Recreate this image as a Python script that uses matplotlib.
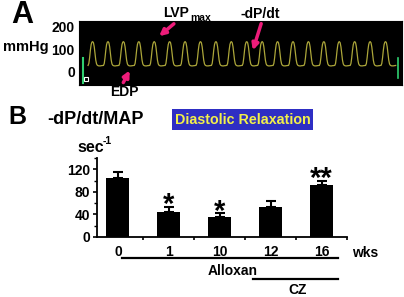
#!/usr/bin/env python3
"""LV pressure trace (A) and diastolic relaxation bar chart (B)."""

import matplotlib

matplotlib.use("Agg")

import matplotlib.pyplot as plt
import numpy as np
from matplotlib.patches import FancyArrowPatch, Rectangle
from matplotlib.lines import Line2D

plt.rcParams["font.family"] = ["Liberation Sans", "DejaVu Sans"]
plt.rcParams["font.weight"] = "bold"

W, H = 404, 297

# panel A: one heartbeat of LV pressure (mmHg), 20 beats shown
beat_mmhg = [27, 36, 62, 96, 121, 132, 134, 129, 111, 80, 51, 34, 28, 26, 25, 25, 25, 26, 26, 27]
n_beats = 20
pressure_ticks = [0, 100, 200]

# panel B: -dP/dt/MAP (sec^-1)
weeks = ["0", "1", "10", "12", "16"]
dpdt_map = [105, 44.5, 36, 52.5, 93]
dpdt_err = [11, 9, 6, 11.5, 6]
stars = ["", "*", "*", "", "**"]
y_ticks_b = [0, 40, 80, 120]

PINK = "#ee1c7a"
TRACE = "#aca63a"
GREEN = "#2fd070"


def P(x, y):
    """image pixel (top-left origin) -> figure fraction"""
    return x / W, 1 - y / H


def axes_rect(left, top, right, bottom):
    return [left / W, 1 - bottom / H, (right - left) / W, (bottom - top) / H]


fig = plt.figure(figsize=(W / 100, H / 100), dpi=100)

# ---------------- panel A ----------------
axa = fig.add_axes(axes_rect(79, 21, 402, 85))
axa.set_facecolor("black")
pressure = np.tile(beat_mmhg, n_beats)
t = np.arange(len(pressure)) / len(beat_mmhg)
axa.plot(t, pressure, color=TRACE, lw=0.9)
axa.set_xlim(-0.588, 20.36)
axa.set_ylim(-61, 227)
# calibration marks
axa.plot([-0.33, -0.33], [60, -52], color=GREEN, lw=1.5)
axa.plot([20.13, 20.13], [60, -30], color=GREEN, lw=1.2)
axa.plot([-0.13], [-34], marker="s", ms=3, mfc="none", mec="white", mew=0.8)
axa.set_xticks([])
axa.set_yticks(pressure_ticks)
axa.set_yticklabels([str(v) for v in pressure_ticks])
axa.tick_params(axis="y", length=0, pad=3, labelsize=10)
for s in axa.spines.values():
    s.set_color("black")

fig.text(*P(22, 15), "A", fontsize=22, ha="center", va="center")
fig.text(*P(26, 47), "mmHg", fontsize=10.5, ha="center", va="center")
fig.text(*P(163, 13), "LVP", fontsize=10, ha="left", va="center")
fig.text(*P(190, 18), "max", fontsize=7.5, ha="left", va="center")
fig.text(*P(260, 14), "-dP/dt", fontsize=10, ha="center", va="center")
fig.text(*P(124, 92), "EDP", fontsize=10, ha="center", va="center")

for tail, head in [((176, 22), (157, 38)), ((262, 21), (252, 53)), ((122, 85), (131, 68))]:
    fig.add_artist(FancyArrowPatch(P(*tail), P(*head), transform=fig.transFigure,
                                   arrowstyle="-|>", mutation_scale=9, lw=2.5,
                                   color=PINK))

# ---------------- panel B ----------------
axb = fig.add_axes(axes_rect(97, 158, 347, 237))
x = np.arange(len(weeks))
axb.bar(x, dpdt_map, width=0.45, color="black")
axb.errorbar(x, dpdt_map, yerr=[np.zeros(len(x)), dpdt_err], fmt="none",
             ecolor="black", elinewidth=1.5, capsize=3.5, capthick=1.5)
for xi, v, e, s in zip(x, dpdt_map, dpdt_err, stars):
    if s:
        axb.text(xi, v + e - 11, s, fontsize=21, ha="center", va="baseline")
axb.set_xlim(-0.41, 4.5)
axb.set_ylim(0, 140)
axb.set_yticks(y_ticks_b)
axb.set_yticks([20, 60, 100, 140], minor=True)
axb.set_xticks(x)
axb.set_xticklabels(weeks)
axb.set_xticks([0.5, 1.5, 2.5, 3.5, 4.5], minor=True)
axb.tick_params(axis="x", which="major", length=0, pad=6, labelsize=10)
axb.tick_params(axis="x", which="minor", length=2.5, width=1.2)
axb.tick_params(axis="y", which="major", length=3, width=1.2, labelsize=10, pad=2)
axb.tick_params(axis="y", which="minor", length=2, width=1.0)
for side in ("top", "right"):
    axb.spines[side].set_visible(False)
for side in ("left", "bottom"):
    axb.spines[side].set_linewidth(1.3)

fig.text(*P(17, 117), "B", fontsize=18, ha="center", va="center")
fig.text(*P(47, 120), "-dP/dt/MAP", fontsize=13, ha="left", va="center")
fig.text(*P(77, 148), "sec", fontsize=11.5, ha="left", va="center")
fig.text(*P(103, 141), "-1", fontsize=7.5, ha="left", va="center")

x0, y0 = P(172, 130)
fig.add_artist(Rectangle((x0, y0), 141 / W, 21 / H, transform=fig.transFigure,
                         facecolor="#2e2ec4", edgecolor="none"))
fig.text(*P(242.5, 119.5), "Diastolic Relaxation", fontsize=10.3, color="#f2f04a",
         ha="center", va="center")

fig.text(*P(365, 253), "wks", fontsize=10, ha="center", va="center")
fig.add_artist(Line2D([122 / W, 338 / W], [1 - 258 / H] * 2, color="black", lw=1.6,
                      transform=fig.transFigure))
fig.text(*P(233, 271), "Alloxan", fontsize=10, ha="center", va="center")
fig.add_artist(Line2D([253 / W, 338 / W], [1 - 279 / H] * 2, color="black", lw=1.6,
                      transform=fig.transFigure))
fig.text(*P(298, 293.5), "CZ", fontsize=10, ha="center", va="baseline")

fig.savefig("out.png", dpi=100)
